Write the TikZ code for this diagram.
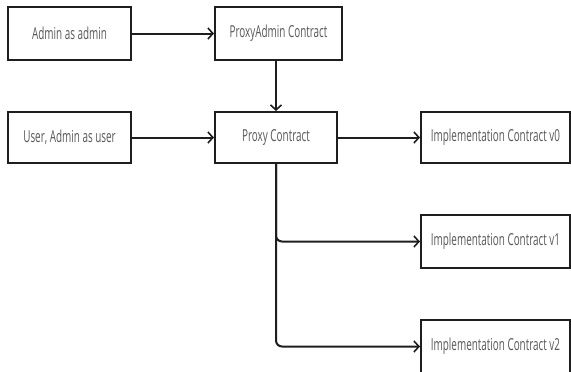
\documentclass[tikz,border=0pt]{standalone}
\usepackage{fontspec}
\setmainfont{Open Sans}[FakeStretch=0.6]
\usetikzlibrary{arrows.meta}
\definecolor{edge}{HTML}{1E1E1E}
\definecolor{label}{HTML}{585858}
\tikzset{
  box/.style={draw=edge, line width=2bp, fill=white, minimum height=53bp,
    inner sep=0pt, font=\fontsize{16.5bp}{18bp}\selectfont, text=label},
  link/.style={draw=edge, line width=2bp,
    -{Straight Barb[length=5bp,width=11bp,line width=1.6bp]}}
}
\begin{document}
\begin{tikzpicture}[x=1bp,y=-1bp]
  \useasboundingbox (0,0) rectangle (571,371);
  % sources
  \node[box, minimum width=123bp] (admin) at (69.5,33.5) {Admin as admin};
  \node[box, minimum width=123bp, minimum height=51bp] (user) at (69.5,137.5) {User, Admin as user};
  % proxy layer
  \node[box, minimum width=127bp] (padmin) at (278.5,33.5) {ProxyAdmin Contract};
  \node[box, minimum width=122bp, minimum height=51bp] (proxy) at (276,137.5) {Proxy Contract};
  % implementations
  \node[box, minimum width=149bp, minimum height=51bp] (v0) at (495.5,137.5) {Implementation Contract v0};
  \node[box, minimum width=149bp] (v1) at (495.5,241.5) {Implementation Contract v1};
  \node[box, minimum width=149bp] (v2) at (495.5,346.5) {Implementation Contract v2};
  % connectors
  \draw[link] (admin) -- (padmin);
  \draw[link] (user) -- (proxy);
  \draw[link] (proxy.north |- padmin.south) -- (proxy.north);
  \draw[link] (proxy) -- (v0);
  \draw[link, rounded corners=6bp] (proxy.south) |- (v1.west);
  \draw[link, rounded corners=6bp] (proxy.south) |- (v2.west);
\end{tikzpicture}
\end{document}
